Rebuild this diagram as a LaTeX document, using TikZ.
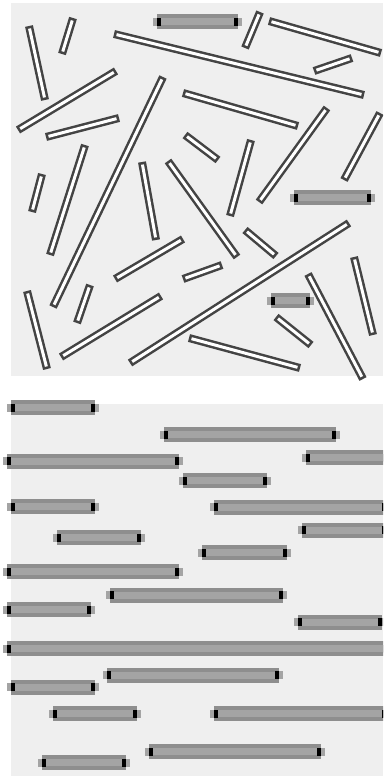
\documentclass[tikz,border=0pt]{standalone}
\usepackage{tikz}

\definecolor{panelbg}{HTML}{EFEFEF}
\definecolor{rodedge}{HTML}{444444}
\definecolor{rodbody}{HTML}{8E8E8E}
\definecolor{rodcore}{HTML}{A4A4A4}

% flat grey rod: left end, right end, height of its axis
\newcommand{\grayrod}[3]{%
  \fill[rodcore] (#1-4,#3-4) rectangle (#2+4,#3+4);
  \fill[rodbody] (#1,#3-7.5) rectangle (#2,#3+7.5);
  \fill[rodcore] (#1,#3-3.5) rectangle (#2,#3+3.5);
  \fill[black] (#1,#3-4) rectangle (#1+4,#3+4);
  \fill[black] (#2-4,#3-4) rectangle (#2,#3+4);}

\begin{document}
\begin{tikzpicture}[x=1pt,y=-1pt,
  hollow/.style={draw=rodedge,line width=8pt},
  core/.style={draw=white,line width=3pt,shorten >=2.6pt,shorten <=2.6pt}]
  \useasboundingbox (0,0) rectangle (383,776);
  \clip (0,0) rectangle (383,776);
  \fill[panelbg] (11,3) rectangle (383,376);
  \fill[panelbg] (11,404) rectangle (383,776);
  % isotropic phase
  \foreach \xa/\ya/\xb/\yb in {29/26/45/100, 73/18/62/54, 114/34/364/95,
      269/21/381/53, 352/58/314/71, 116/71/18/130, 119/118/46/137,
      163/77/53/307, 183/93/298/126, 185/135/218/160, 260/12/245/48,
      327/108/259/202, 380/113/344/180, 42/174/32/212, 85/145/50/255,
      142/162/156/240, 168/161/237/257, 251/140/230/216, 245/230/276/256,
      183/239/115/279, 222/265/183/279, 130/363/349/223, 354/257/373/335,
      308/274/363/379, 276/317/311/345, 189/338/300/368, 90/285/77/323,
      27/291/47/369, 161/296/61/357}
  {
    \draw[hollow] (\xa,\ya) -- (\xb,\yb);
    \draw[core] (\xa,\ya) -- (\xb,\yb);
  }
  \grayrod{157}{238}{22}
  \grayrod{294}{371}{197.5}
  \grayrod{271}{310}{300.5}
  % smectic phase
  \foreach \xa/\xb/\y in {11/95/407.5, 164/336/434.5, 7/179/461,
      306/478/457.5, 183/267/480.5, 11/95/506.5, 214/386/507,
      302/386/530, 57/141/537.5, 202/287/552.5, 7/179/571.5,
      110/283/595, 7/91/609.5, 298/382/622, 7/420/648.5,
      107/279/675, 11/95/687, 53/137/713.5, 214/386/713.5,
      149/321/751.5, 42/126/762.5}
  {
    \grayrod{\xa}{\xb}{\y}
  }
\end{tikzpicture}
\end{document}
